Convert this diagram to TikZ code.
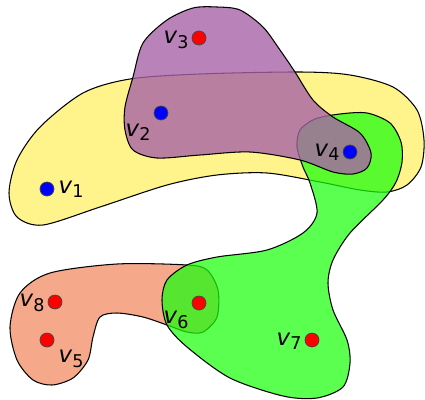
\documentclass[tikz,border=0pt]{standalone}
\usepackage{fontspec}
\setsansfont{DejaVu Sans}

\definecolor{edgeyellow}{RGB}{255,243,140}
\definecolor{edgesalmon}{RGB}{245,168,138}
\definecolor{edgegreen}{RGB}{26,255,12}
\definecolor{edgepurple}{RGB}{167,99,167}
\definecolor{dotrim}{RGB}{70,70,70}

\newcommand{\vname}[1]{\textit{v}\raisebox{-0.35ex}{\fontsize{10}{10}\selectfont #1}}

\tikzset{
  hedge/.style={draw=black, line width=0.6pt},
  vert/.style={circle, draw=dotrim, line width=0.4pt, inner sep=0pt, minimum size=0.28cm},
  vlabel/.style={font=\sffamily\fontsize{13}{13}\selectfont, inner sep=0pt}
}

\begin{document}
\begin{tikzpicture}[x=0.02cm, y=-0.02cm]
  \useasboundingbox (0,0) rectangle (425,399);

  %yellow edge
  \draw[hedge, fill=edgeyellow] plot[smooth cycle] coordinates {
    (9,193) (17,160) (40,127) (83,93) (130,79) (200,74) (300,72) (350,75)
    (393,87) (417,110) (424,140) (421,167) (407,185) (387,192) (360,190)
    (320,182) (267,173) (217,175) (167,185) (100,207) (43,225) (17,217)};

  %salmon edge
  \draw[hedge, fill=edgesalmon] plot[smooth cycle] coordinates {
    (187,265) (117,264) (50,273) (20,293) (10,327) (17,360) (33,380)
    (52,385) (73,378) (88,360) (93,337) (100,317) (117,313) (143,317)
    (167,325) (187,332) (203,332) (217,317) (218,290) (207,270)};

  %green edge
  \draw[hedge, fill=edgegreen, fill opacity=0.72] plot[smooth cycle] coordinates {
    (340,114) (367,113) (390,123) (401,142) (402,162) (396,182) (383,200)
    (350,233) (333,260) (328,283) (333,310) (347,340) (350,363) (343,387)
    (317,398) (283,396) (230,378) (187,347) (167,325) (162,300) (167,280)
    (187,265) (217,257) (267,250) (303,233) (317,213) (310,183) (303,167)
    (297,147) (300,130) (315,119)};

  %purple edge
  \draw[hedge, fill=edgepurple, fill opacity=0.8] plot[smooth cycle] coordinates {
    (133,77) (143,43) (167,20) (193,8) (217,7) (240,10) (263,27) (280,50)
    (295,72) (313,100) (333,117) (360,133) (371,153) (367,168) (353,174)
    (333,172) (300,160) (250,152) (200,155) (157,158) (133,150) (125,130)
    (125,107)};

  %vertices
  \node[vert, fill=blue] (v1) at (47,189) {};
  \node[vert, fill=blue] (v2) at (161,113) {};
  \node[vert, fill=red]  (v3) at (199,38) {};
  \node[vert, fill=blue] (v4) at (350,152) {};
  \node[vert, fill=red]  (v5) at (47,340) {};
  \node[vert, fill=red]  (v6) at (199,303) {};
  \node[vert, fill=red]  (v7) at (312,340) {};
  \node[vert, fill=red]  (v8) at (55,302) {};

  %labels
  \node[vlabel] (l1) at (71,189) {\vname{1}};
  \node[vlabel] (l2) at (138,132) {\vname{2}};
  \node[vlabel] (l3) at (176,40) {\vname{3}};
  \node[vlabel] (l4) at (327,152) {\vname{4}};
  \node[vlabel] (l5) at (71,359) {\vname{5}};
  \node[vlabel] (l6) at (176,320) {\vname{6}};
  \node[vlabel] (l7) at (289,341) {\vname{7}};
  \node[vlabel] (l8) at (32,303) {\vname{8}};
\end{tikzpicture}
\end{document}
